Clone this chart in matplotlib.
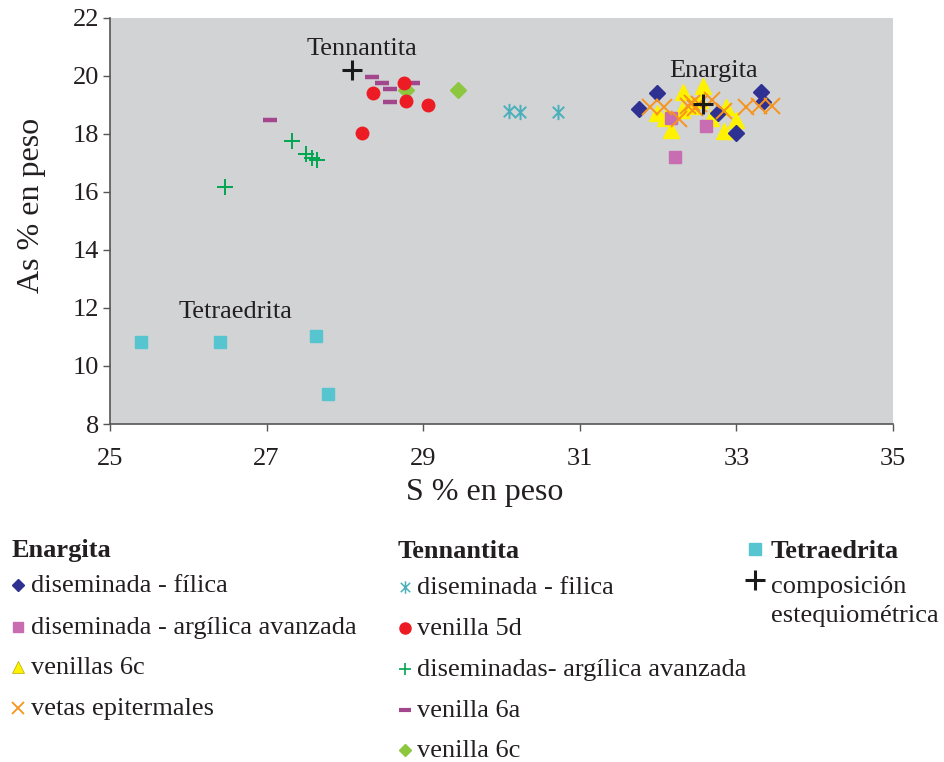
import matplotlib
matplotlib.use("Agg")
import matplotlib.pyplot as plt
from matplotlib.path import Path

plt.rcParams['font.family'] = ['Liberation Serif', 'DejaVu Serif']

# ---- data ----
# Enargita
en_filica_x = [31.98, 31.76, 33.31, 33.34, 32.77, 32.99]
en_filica_y = [19.40, 18.85, 19.46, 19.09, 18.72, 18.03]
en_arg_x = [32.17, 32.61, 32.22]
en_arg_y = [18.54, 18.28, 17.22]
en_v6c_x = [32.57, 32.32, 31.99, 32.30, 32.17, 32.68, 32.87, 33.00, 32.84, 32.43, 32.09, 32.54]
en_v6c_y = [19.66, 19.44, 18.72, 18.83, 18.14, 18.54, 18.94, 18.48, 18.10, 18.97, 18.55, 19.17]
en_vetas_x = [31.90, 32.07, 32.27, 32.43, 32.47, 32.69, 32.84, 33.12, 33.29, 33.45, 32.38, 32.52]
en_vetas_y = [18.93, 18.94, 18.52, 19.06, 18.90, 19.17, 18.81, 18.94, 18.97, 18.98, 18.95, 19.05]
# Tennantita
tn_filica_x = [30.09, 30.24, 30.72]
tn_filica_y = [18.80, 18.75, 18.75]
tn_v5d_x = [28.75, 28.36, 28.78, 29.06, 28.22]
tn_v5d_y = [19.75, 19.40, 19.14, 18.99, 18.05]
tn_arg_x = [27.33, 27.50, 27.58, 27.65, 26.47]
tn_arg_y = [17.77, 17.31, 17.16, 17.10, 16.16]
tn_v6a_x = [28.34, 28.48, 28.58, 28.87, 28.58, 27.04]
tn_v6a_y = [19.97, 19.77, 19.55, 19.77, 19.09, 18.48]
tn_v6c_x = [28.78, 29.45]
tn_v6c_y = [19.52, 19.52]
# Tetraedrita
te_x = [25.40, 26.40, 27.63, 27.78]
te_y = [10.83, 10.83, 11.03, 9.03]
# composicion estequiometrica
est_x = [28.09, 32.57]
est_y = [20.21, 19.03]

labels = [("Tennantita", 28.22, 20.93), ("Enargita", 32.71, 20.17), ("Tetraedrita", 26.60, 11.85)]

x_ticks = [25, 27, 29, 31, 33, 35]
y_ticks = [8, 10, 12, 14, 16, 18, 20, 22]

# ---- styles ----
C_BLUE = '#2e3192'
C_PINK = '#c86db1'
C_YEL = '#fff200'
C_ORA = '#f7941d'
C_TEAL = '#4bb0bb'
C_RED = '#ed1c24'
C_GRN = '#00a651'
C_PUR = '#a3478d'
C_LIME = '#8dc63f'
C_CYAN = '#56c5d0'

# asterisk: vertical bar plus an X
asterisk = Path([(0, -1), (0, 1), (-0.75, -0.75), (0.75, 0.75), (-0.75, 0.75), (0.75, -0.75)],
                [Path.MOVETO, Path.LINETO, Path.MOVETO, Path.LINETO, Path.MOVETO, Path.LINETO])

W, H = 944, 762
fig = plt.figure(figsize=(W / 100, H / 100), dpi=100)
ax = fig.add_axes([110 / W, 1 - 424 / H, (893 - 110) / W, (424 - 18) / H])
ax.set_facecolor('#d1d3d4')

ax.plot(en_v6c_x, en_v6c_y, ls='none', marker='^', ms=11, mfc=C_YEL, mec=C_YEL, zorder=3)
ax.plot(en_arg_x, en_arg_y, ls='none', marker='s', ms=8, mfc=C_PINK, mec=C_PINK, zorder=4)
ax.plot(en_filica_x, en_filica_y, ls='none', marker='D', ms=8, mfc=C_BLUE, mec=C_BLUE, zorder=4)
ax.plot(en_vetas_x, en_vetas_y, ls='none', marker='x', ms=11, mec=C_ORA, mew=1.4, zorder=5)

ax.plot(tn_filica_x, tn_filica_y, ls='none', marker=asterisk, ms=11, mfc='none', mec=C_TEAL, mew=1.4, zorder=4)
ax.plot(tn_v6a_x, tn_v6a_y, ls='none', marker='_', ms=10, mec=C_PUR, mew=3.2, zorder=3)
ax.plot(tn_v6c_x, tn_v6c_y, ls='none', marker='D', ms=8, mfc=C_LIME, mec=C_LIME, zorder=3)
ax.plot(tn_v5d_x, tn_v5d_y, ls='none', marker='o', ms=9, mfc=C_RED, mec=C_RED, zorder=4)
ax.plot(tn_arg_x, tn_arg_y, ls='none', marker='+', ms=11, mec=C_GRN, mew=1.4, zorder=4)

ax.plot(te_x, te_y, ls='none', marker='s', ms=8, mfc=C_CYAN, mec=C_CYAN, zorder=4)
ax.plot(est_x, est_y, ls='none', marker='+', ms=15, mec='#1a1a1a', mew=2.2, zorder=6)

for txt, lx, ly in labels:
    ax.text(lx, ly, txt, ha='center', va='center', fontsize=19, color='#231f20', zorder=7)

ax.set_xlim(25, 35)
ax.set_ylim(8, 22)
ax.set_xticks(x_ticks)
ax.set_yticks(y_ticks)
ax.tick_params(direction='out', length=5, width=1, color='#555555', labelsize=19,
               labelcolor='#231f20')
ax.tick_params(axis='x', pad=12)
ax.tick_params(axis='y', pad=3)
for s in ['top', 'right']:
    ax.spines[s].set_visible(False)
for s in ['left', 'bottom']:
    ax.spines[s].set_color('#555555')
    ax.spines[s].set_linewidth(1.2)
ax.set_xlabel('S % en peso', fontsize=23, color='#231f20')
ax.set_ylabel('As % en peso', fontsize=23, color='#231f20')
ax.xaxis.set_label_coords(0.479, -0.168)
ax.xaxis.label.set_va('center')
ax.yaxis.set_label_coords(-0.1, 0.539)
ax.yaxis.label.set_va('center')

# ---- legend (figure-level) ----
lg = fig.add_axes([0, 0, 1, 1])
lg.set_xlim(0, W)
lg.set_ylim(H, 0)
lg.axis('off')
fs = 19
tc = '#231f20'

# column 1
lg.text(12, 551, 'Enargita', fontsize=fs, fontweight='bold', va='center', color=tc)
col1 = [
    ('diseminada - fílica', dict(marker='D', ms=6.5, mfc=C_BLUE, mec=C_BLUE), 586),
    ('diseminada - argílica avanzada', dict(marker='s', ms=7, mfc=C_PINK, mec=C_PINK), 628),
    ('venillas 6c', dict(marker='^', ms=8, mfc=C_YEL, mec='#b5a800', mew=0.5), 668),
    ('vetas epitermales', dict(marker='x', ms=8, mec=C_ORA, mew=1.3), 709),
]
for txt, st, yy in col1:
    lg.plot([18], [yy - 1], ls='none', **st)
    lg.text(31, yy, txt, fontsize=fs, va='center', color=tc)

# column 2
lg.text(398, 551, 'Tennantita', fontsize=fs, fontweight='bold', va='center', color=tc)
col2 = [
    ('diseminada - filica', dict(marker=asterisk, ms=9, mfc='none', mec=C_TEAL, mew=1.1), 588),
    ('venilla 5d', dict(marker='o', ms=8, mfc=C_RED, mec=C_RED), 629),
    ('diseminadas- argílica avanzada', dict(marker='+', ms=9, mec=C_GRN, mew=1.2), 670),
    ('venilla 6a', dict(marker='_', ms=9, mec=C_PUR, mew=3), 711),
    ('venilla 6c', dict(marker='D', ms=6.5, mfc=C_LIME, mec=C_LIME), 751),
]
for txt, st, yy in col2:
    lg.plot([405], [yy - 1], ls='none', **st)
    lg.text(417, yy, txt, fontsize=fs, va='center', color=tc)

# column 3
lg.plot([755], [549], ls='none', marker='s', ms=8, mfc=C_CYAN, mec=C_CYAN)
lg.text(771, 551, 'Tetraedrita', fontsize=fs, fontweight='bold', va='center', color=tc)
lg.plot([755], [580], ls='none', marker='+', ms=15, mec='#1a1a1a', mew=2.2)
lg.text(771, 587, 'composición', fontsize=fs, va='center', color=tc)
lg.text(771, 616, 'estequiométrica', fontsize=fs, va='center', color=tc)

fig.savefig('out.png', dpi=100)
